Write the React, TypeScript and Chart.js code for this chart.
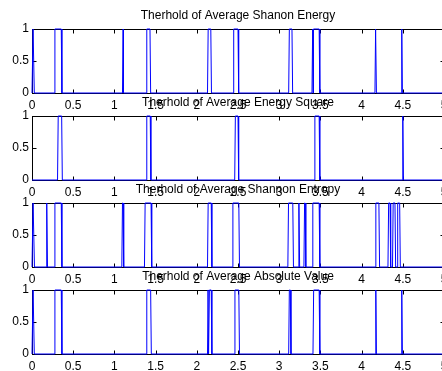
import React, { useEffect, useRef } from 'react';
import { Chart, registerables } from 'chart.js';

Chart.register(...registerables);

// ---- data ----
const titles = [
  'Therhold of Average Shanon Energy',
  'Therhold of Average Energy Square',
  'Therhold of Average Shannon Entropy',
  'Therhold of Average Absolute Value',
];

// pulses: [rise, fall] positions (x units) where the threshold signal is 1
const shanonEnergyPulses: number[][] = [
  [0.005, 0.02], [0.27, 0.355], [1.098, 1.106], [1.385, 1.432], [2.13, 2.17],
  [2.44, 2.5], [3.115, 3.155], [3.398, 3.403], [3.412, 3.485], [4.162, 4.172], [4.48, 4.487],
];
const energySquarePulses: number[][] = [
  [0.31, 0.36], [1.385, 1.435], [2.46, 2.5], [3.425, 3.485], [4.492, 4.5],
];
const shannonEntropyPulses: number[][] = [
  [0.005, 0.022], [0.17, 0.18], [0.27, 0.355], [1.09, 1.105], [1.365, 1.445],
  [2.13, 2.175], [2.43, 2.51], [3.105, 3.165], [3.23, 3.24], [3.3, 3.315],
  [3.4, 3.485], [4.165, 4.21], [4.32, 4.345], [4.375, 4.405], [4.43, 4.462],
];
const absoluteValuePulses: number[][] = [
  [0.005, 0.02], [0.27, 0.355], [1.385, 1.44], [2.13, 2.135], [2.145, 2.175],
  [2.455, 2.51], [3.115, 3.135], [3.41, 3.485], [4.165, 4.172], [4.48, 4.487],
];

const xTickLabels = ['0', '0.5', '1', '1.5', '2', '2.5', '3', '3.5', '4', '4.5', '5'];
const yTickLabels = ['0', '0.5', '1'];
const X_MIN = 0;
const X_MAX = 5;

const allPulses = [shanonEnergyPulses, energySquarePulses, shannonEntropyPulses, absoluteValuePulses];

// ---- layout / style ----
const RAMP = 0.008;
const PLOT_TOPS = [29, 116, 203, 290];
const CANVAS_W = 470;
const CANVAS_H = 115;
const PAD_TOP = 29;
const FONT = 'Liberation Sans, Arial, Helvetica, sans-serif';
const FONT_SIZE = 12;

function pulsesToPoints(pulses: number[][]) {
  const pts: { x: number; y: number }[] = [{ x: X_MIN, y: 0 }];
  for (const [a, b] of pulses) {
    pts.push({ x: a, y: 0 }, { x: a + RAMP, y: 1 }, { x: b, y: 1 }, { x: b + RAMP, y: 0 });
  }
  pts.push({ x: X_MAX, y: 0 });
  return pts;
}

const framePlugin = {
  id: 'frame',
  beforeDatasetsDraw(chart: any, _args: any, opts: any) {
    const { ctx, chartArea } = chart;
    const xs = chart.scales.x;
    const ys = chart.scales.y;
    const l = Math.round(chartArea.left) + 0.5;
    const r = Math.round(chartArea.right) + 0.5;
    const t = Math.round(chartArea.top) + 0.5;
    const b = Math.round(chartArea.bottom) + 0.5;
    ctx.save();
    ctx.strokeStyle = '#000';
    ctx.lineWidth = 1;
    ctx.strokeRect(l, t, r - l, b - t);
    const T = 4;
    ctx.beginPath();
    xs.ticks.forEach((tk: any) => {
      const px = Math.round(xs.getPixelForValue(tk.value)) + 0.5;
      ctx.moveTo(px, b);
      ctx.lineTo(px, b - T);
      ctx.moveTo(px, t);
      ctx.lineTo(px, t + T);
    });
    ys.ticks.forEach((tk: any) => {
      const py = Math.round(ys.getPixelForValue(tk.value)) + 0.5;
      ctx.moveTo(l, py);
      ctx.lineTo(l + T, py);
      ctx.moveTo(r, py);
      ctx.lineTo(r - T, py);
    });
    ctx.stroke();
    ctx.fillStyle = '#000';
    ctx.font = `${FONT_SIZE}px ${FONT}`;
    ctx.textAlign = 'center';
    ctx.textBaseline = 'middle';
    ctx.fillText(opts.title, (chartArea.left + chartArea.right) / 2, chartArea.top - 13);
    ctx.restore();
  },
};

function SubPlot({ index }: { index: number }) {
  const ref = useRef<HTMLCanvasElement>(null);
  useEffect(() => {
    const chart = new Chart(ref.current!, {
      type: 'line',
      data: {
        datasets: [
          {
            data: pulsesToPoints(allPulses[index]),
            borderColor: '#0000ff',
            borderWidth: 1,
            pointRadius: 0,
            tension: 0,
            fill: false,
            clip: 2,
          } as any,
        ],
      },
      options: {
        responsive: false,
        animation: false,
        layout: { padding: { top: PAD_TOP, right: CANVAS_W - 444, left: 0, bottom: 0 } },
        plugins: {
          legend: { display: false },
          tooltip: { enabled: false },
          frame: { title: titles[index] },
        } as any,
        scales: {
          x: {
            type: 'linear',
            min: X_MIN,
            max: X_MAX,
            grid: { display: false, drawTicks: false },
            border: { display: false },
            ticks: {
              stepSize: 0.5,
              autoSkip: false,
              maxRotation: 0,
              padding: 5,
              color: '#000',
              font: { family: FONT, size: FONT_SIZE },
              callback: (_v: any, i: number) => xTickLabels[i],
            },
            afterFit: (s: any) => {
              s.height = 22;
            },
          },
          y: {
            min: 0,
            max: 1,
            grid: { display: false, drawTicks: false },
            border: { display: false },
            ticks: {
              stepSize: 0.5,
              padding: 3,
              color: '#000',
              font: { family: FONT, size: FONT_SIZE },
              callback: (_v: any, i: number) => yTickLabels[i],
            },
            afterFit: (s: any) => {
              s.width = 32;
            },
          },
        },
      },
      plugins: [framePlugin],
    });
    return () => chart.destroy();
  }, [index]);
  return (
    <canvas
      ref={ref}
      width={CANVAS_W}
      height={CANVAS_H}
      style={{ position: 'absolute', left: 0, top: PLOT_TOPS[index] - PAD_TOP, width: CANVAS_W, height: CANVAS_H }}
    />
  );
}

export default function App() {
  return (
    <div
      style={{
        position: 'absolute',
        left: 0,
        top: 0,
        width: 442,
        height: 371,
        overflow: 'hidden',
        background: '#fff',
      }}
    >
      {titles.map((_, i) => (
        <SubPlot key={i} index={i} />
      ))}
    </div>
  );
}
